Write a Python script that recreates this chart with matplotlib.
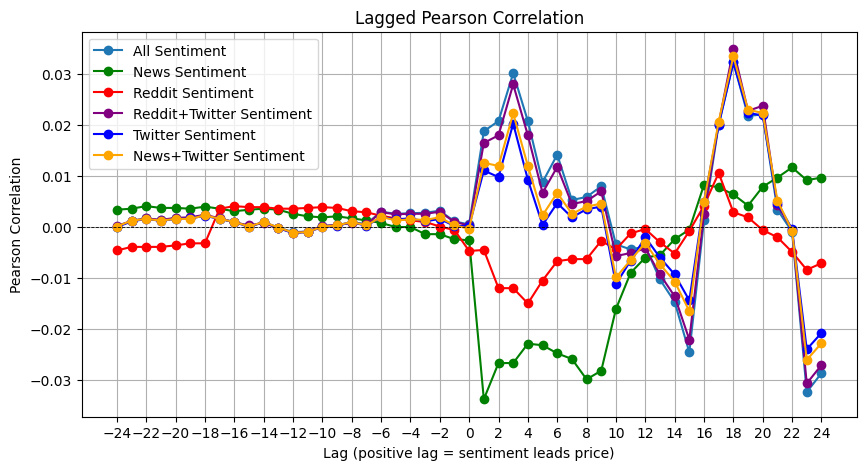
import matplotlib
matplotlib.use("Agg")
import matplotlib.pyplot as plt

lags = list(range(-24, 25))

all_sent = [0.0001, 0.0012, 0.0017, 0.0013, 0.0017, 0.0018, 0.0023, 0.0016, 0.0010, 0.0002, 0.0009, -0.0001,
            -0.0010, -0.0009, 0.0002, 0.0004, 0.0009, 0.0006, 0.0030, 0.0026, 0.0027, 0.0028, 0.0032, 0.0011,
            0.0005,
            0.0188, 0.0208, 0.0302, 0.0208, 0.0088, 0.0142, 0.0053, 0.0059, 0.0080, -0.0034, -0.0044, -0.0038,
            -0.0103, -0.0147, -0.0246, 0.0013, 0.0201, 0.0323, 0.0218, 0.0221, 0.0034, -0.0009, -0.0324, -0.0287]

news_sent = [0.0034, 0.0036, 0.0041, 0.00375, 0.00375, 0.0036, 0.0040, 0.0036, 0.0031, 0.0034, 0.0036, 0.0034,
             0.0026, 0.0021, 0.0019, 0.0021, 0.0017, 0.0013, 0.0008, 0.0000, 0.0000, -0.0014, -0.0014, -0.0024,
             -0.0026,
             -0.0338, -0.0267, -0.0267, -0.0229, -0.0232, -0.0248, -0.0259, -0.0299, -0.0282, -0.0161, -0.0090, -0.0060,
             -0.0055, -0.0024, -0.0005, 0.0083, 0.0078, 0.0064, 0.0042, 0.0079, 0.0097, 0.0117, 0.0092, 0.0097]

reddit_sent = [-0.0046, -0.0039, -0.0039, -0.0039, -0.0036, -0.0032, -0.0032, 0.0036, 0.0041, 0.0039, 0.0039, 0.0036,
               0.0036, 0.00375, 0.0039, 0.00375, 0.0031, 0.0029, 0.0022, 0.0017, 0.0013, 0.0010, 0.0001, -0.0006,
               -0.0047,
               -0.0045, -0.0120, -0.0120, -0.0150, -0.0105, -0.0067, -0.0063, -0.0063, -0.0027, -0.0044, -0.00125, -0.0004,
               -0.0030, -0.0052, -0.0008, 0.0042, 0.0106, 0.0029, 0.0019, -0.0006, -0.0020, -0.0049, -0.0084, -0.0071]

reddit_twitter_sent = [0.0002, 0.0012, 0.0017, 0.0014, 0.0018, 0.0019, 0.0024, 0.0017, 0.0009, 0.0003, 0.0008, -0.0002,
                       -0.0011, -0.0009, 0.0002, 0.0004, 0.0008, 0.0005, 0.0029, 0.0025, 0.0026, 0.0026, 0.0030, 0.0010,
                       0.0003,
                       0.0165, 0.0180, 0.0280, 0.0180, 0.0067, 0.0118, 0.0045, 0.0051, 0.0070, -0.0057, -0.0051, -0.0042,
                       -0.0093, -0.0136, -0.0221, 0.0026, 0.0203, 0.0349, 0.0228, 0.0238, 0.0043, -0.0005, -0.0307, -0.0271]

twitter_sent = [0.0000, 0.0011, 0.0016, 0.0012, 0.0016, 0.0017, 0.0022, 0.0016, 0.0010, 0.0000, 0.0010, -0.0002,
                -0.0012, -0.0010, 0.0000, 0.0002, 0.0010, 0.0002, 0.0020, 0.0015, 0.0017, 0.0011, 0.0016, 0.0002,
                0.0002,
                0.0111, 0.0098, 0.0203, 0.0093, 0.0004, 0.0047, 0.0019, 0.0035, 0.0040, -0.0112, -0.0066, -0.0020,
                -0.0060, -0.0093, -0.0144, 0.0050, 0.0201, 0.0323, 0.0224, 0.0219, 0.0047, -0.0004, -0.0240, -0.0208]

news_twitter_sent = [0.0001, 0.00125, 0.0016, 0.00125, 0.0016, 0.0016, 0.0023, 0.0016, 0.0010, 0.0001, 0.0010, -0.0001,
                     -0.0011, -0.0010, 0.0001, 0.0003, 0.0010, 0.0003, 0.0020, 0.0013, 0.0015, 0.0014, 0.0019, 0.0003,
                     -0.0003,
                     0.0126, 0.0120, 0.0223, 0.0120, 0.0023, 0.0067, 0.0026, 0.0040, 0.0046, -0.0099, -0.0065, -0.0031,
                     -0.0073, -0.0107, -0.0165, 0.0049, 0.0207, 0.0335, 0.0230, 0.0224, 0.0052, -0.0007, -0.0261, -0.0228]

series = [
    ("All Sentiment", all_sent, "tab:blue"),
    ("News Sentiment", news_sent, "green"),
    ("Reddit Sentiment", reddit_sent, "red"),
    ("Reddit+Twitter Sentiment", reddit_twitter_sent, "purple"),
    ("Twitter Sentiment", twitter_sent, "blue"),
    ("News+Twitter Sentiment", news_twitter_sent, "orange"),
]

plt.figure(figsize=(10, 5))
for label, vals, color in series:
    plt.plot(lags, vals, marker="o", label=label, color=color)
plt.axhline(0, color="black", linestyle="--", linewidth=0.6)
plt.title("Lagged Pearson Correlation")
plt.xlabel("Lag (positive lag = sentiment leads price)")
plt.ylabel("Pearson Correlation")
plt.xticks(range(-24, 25, 2))
plt.grid(True)
plt.legend(loc="upper left")
plt.savefig("out.png", bbox_inches="tight")
